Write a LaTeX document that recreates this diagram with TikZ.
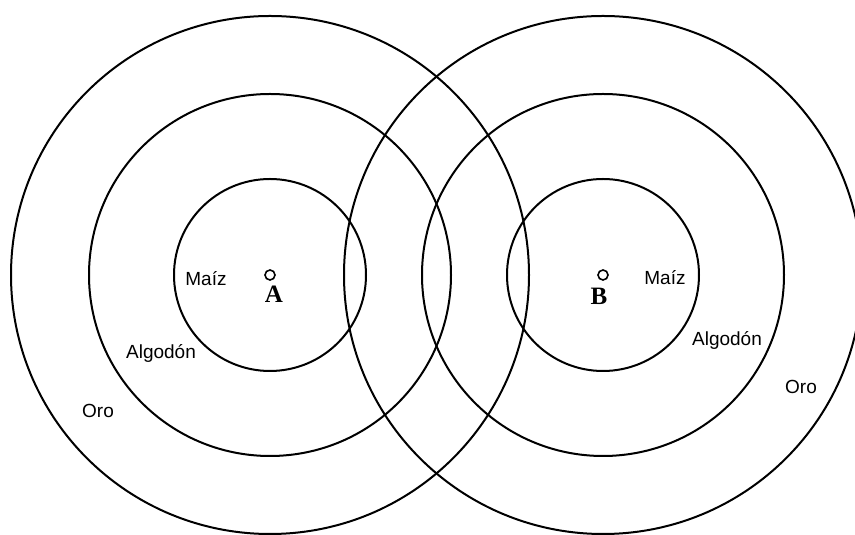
\documentclass[tikz,border=0pt]{standalone}
\usepackage{fontspec}
\setmainfont{Liberation Sans}
\newfontfamily\letterfont{Liberation Serif}
\usetikzlibrary{positioning}

\begin{document}
\begin{tikzpicture}[x=1pt, y=1pt,
	ring/.style={line width=2pt},
	crop/.style={anchor=base, inner sep=0pt, font=\fontsize{19}{22}\selectfont},
	town/.style={circle, draw, line width=1.6pt, minimum size=10pt, inner sep=0pt},
	townname/.style={anchor=base, inner sep=0pt, font=\letterfont\bfseries\fontsize{25}{30}\selectfont}]
			\useasboundingbox (0,0) rectangle (855,535);
			% Towns and rings:
			\node[town](NA) at (270, 260){};
			\node[town](NB) at (603, 260){};
			\foreach \r in {96, 181, 259}{
				\draw[ring] (NA.center) circle[radius=\r];
				\draw[ring] (NB.center) circle[radius=\r];
			}
			\node[townname](LA) at (274, 232){A};
			\node[townname](LB) at (599, 230){B};
			% Crops:
			\node[crop](MA) at (206, 249){Maíz};
			\node[crop](GA) at (161, 176){Algodón};
			\node[crop](OA) at (98, 117){Oro};
			\node[crop](MB) at (665, 250){Maíz};
			\node[crop](GB) at (727, 189){Algodón};
			\node[crop](OB) at (801, 141){Oro};
		\end{tikzpicture}
\end{document}
